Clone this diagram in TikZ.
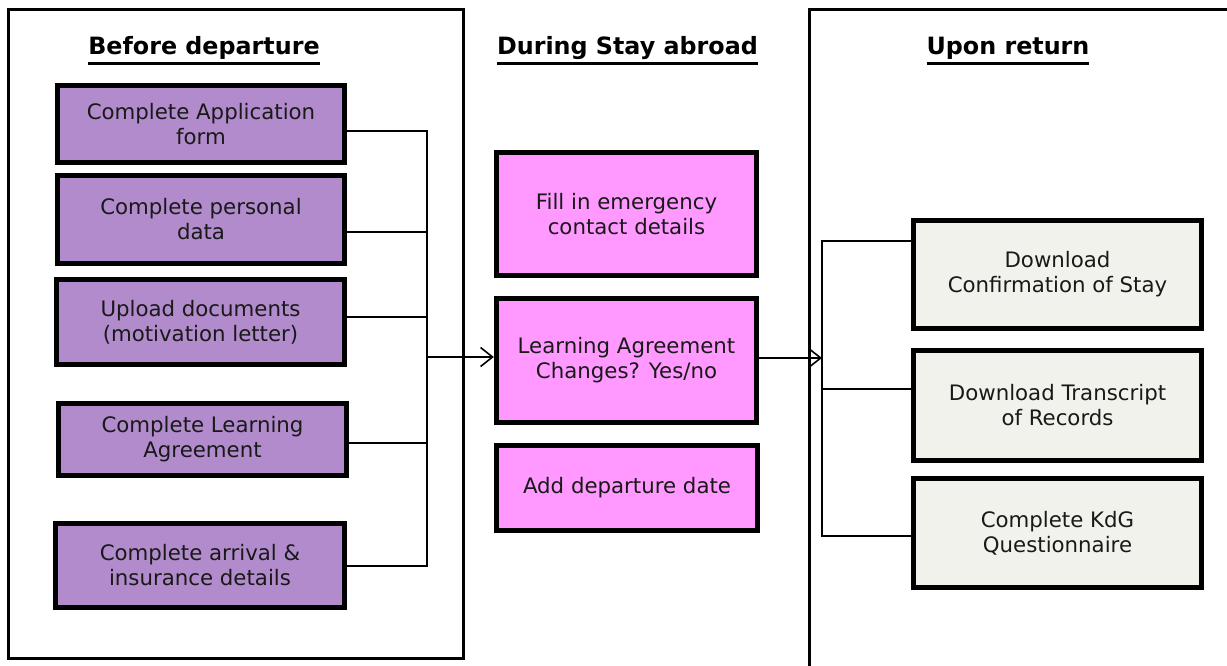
\documentclass[tikz,border=0pt]{standalone}
\usepackage{fontspec}
\setmainfont{DejaVu Sans}
\usetikzlibrary{arrows.meta,calc}
\definecolor{purp}{RGB}{177,139,203}
\definecolor{pinkbox}{RGB}{255,153,255}
\definecolor{greybox}{RGB}{242,242,236}
\tikzset{
  box/.style={draw=black, line width=4.8pt, inner sep=0pt, align=center,
    font=\fontsize{21.3}{25}\selectfont, text=black!90},
  purple box/.style={box, fill=purp},
  pink box/.style={box, fill=pinkbox},
  grey box/.style={box, fill=greybox},
  conn/.style={draw=black, line width=1.4pt},
  arr/.style={conn, -{Straight Barb[length=12pt,width=19pt,line width=1.6pt]}},
  frame/.style={draw=black, line width=3pt},
  header/.style={anchor=base, font=\fontsize{23.8}{27}\selectfont\bfseries}
}
\newcommand{\ulhead}[1]{\leavevmode\vtop{\hbox{#1}\kern2.2pt\hrule height 2.4pt}}
\begin{document}
\begin{tikzpicture}[x=1pt,y=-1pt]
\useasboundingbox[fill=white] (0,0) rectangle (1227,666);
% frames
\draw[frame] (8,10) rectangle (463,658);
\draw[frame] (809,670) -- (809,10) -- (1232,10);
% headers
\node[header] (h1) at (204,55) {\ulhead{Before departure}};
\node[header] (h2) at (627.5,55) {\ulhead{During Stay abroad}};
\node[header] (h3) at (1008,55) {\ulhead{Upon return}};
% left column
\node[purple box, minimum width=287.5pt, minimum height=77.5pt] (L1) at (201,124) {Complete Application\\form};
\node[purple box, minimum width=287.5pt, minimum height=88.5pt] (L2) at (201,219.5) {Complete personal\\data};
\node[purple box, minimum width=288.5pt, minimum height=85.5pt] (L3) at (200.5,322) {Upload documents\\(motivation letter)};
\node[purple box, minimum width=288.5pt, minimum height=72.5pt] (L4) at (202.5,439.5) {Complete Learning\\Agreement};
\node[purple box, minimum width=289.5pt, minimum height=84.5pt] (L5) at (200,565.5) {Complete arrival \&\\insurance details};
% middle column
\node[pink box, minimum width=260.5pt, minimum height=123.5pt] (M1) at (626.5,214) {Fill in emergency\\contact details};
\node[pink box, minimum width=260.5pt, minimum height=124.5pt] (M2) at (626.5,360.5) {Learning Agreement\\Changes? Yes/no};
\node[pink box, minimum width=261.5pt, minimum height=85.5pt] (M3) at (627,488) {Add departure date};
% right column
\node[grey box, minimum width=288.5pt, minimum height=108.5pt] (R1) at (1057.5,274.5) {Download\\Confirmation of Stay};
\node[grey box, minimum width=288.5pt, minimum height=110.5pt] (R2) at (1057.5,405.5) {Download Transcript\\of Records};
\node[grey box, minimum width=288.5pt, minimum height=109.5pt] (R3) at (1057.5,533) {Complete KdG\\Questionnaire};
% junctions
\coordinate (J) at (427,357);
\coordinate (K) at (822,358);
% left bus
\draw[conn] (L1.east) ++(0,7) -| (J);
\draw[conn] (L2.east) ++(0,12.5) -| (J);
\draw[conn] (L3.east) ++(0,-5) -| (J);
\draw[conn] (L4.east) ++(0,3.5) -| (J);
\draw[conn] (L5.east) ++(0,0.5) -| (J);
\draw[arr] (J) -- (J -| M2.west);
% right bus
\draw[conn] (R1.west) ++(0,-33.5) -| (K);
\draw[conn] (R2.west) ++(0,-16.5) -| (K);
\draw[conn] (R3.west) ++(0,3) -| (K);
\draw[arr] (M2.east |- K) -- (K);
\end{tikzpicture}
\end{document}
